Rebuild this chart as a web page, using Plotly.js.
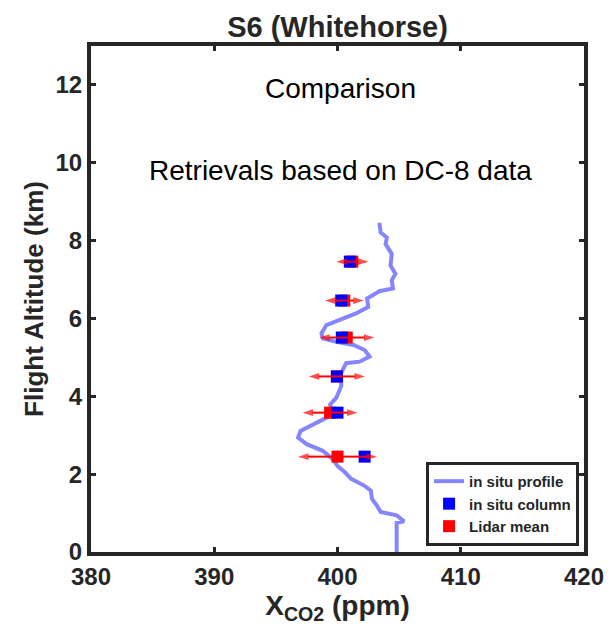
<!DOCTYPE html>
<html>
<head>
<meta charset="utf-8">
<script src="https://cdn.plot.ly/plotly-3.0.1.min.js"></script>
<style>html,body{margin:0;padding:0;background:#fff;}#chart{width:613px;height:634px;}</style>
</head>
<body>
<div id="chart"></div>
<script>
// In situ profile (XCO2 ppm vs altitude km)
var profileAlt = [8.46, 8.21, 8.08, 7.91, 7.66, 7.36, 7.15, 6.98, 6.77, 6.70, 6.51, 6.30, 6.13, 5.96, 5.83, 5.62, 5.49, 5.40, 5.32, 5.19, 5.02, 4.89, 4.85, 4.60, 4.26, 3.96, 3.79, 3.53, 3.28, 3.11, 2.94, 2.77, 2.60, 2.39, 2.21, 2.05, 1.88, 1.70, 1.58, 1.36, 1.19, 1.03, 0.94, 0.79, 0.75, 0.0];
var profileXco2 = [403.4, 403.5, 404.0, 403.9, 404.4, 404.3, 404.7, 404.4, 404.5, 403.4, 402.4, 402.5, 401.5, 400.2, 399.1, 398.7, 398.8, 399.9, 401.3, 402.2, 402.6, 401.8, 400.7, 400.3, 400.3, 399.9, 399.4, 399.6, 398.0, 397.0, 396.8, 397.5, 398.8, 399.6, 400.0, 400.6, 401.1, 402.2, 402.7, 402.8, 403.2, 403.5, 404.8, 405.4, 404.8, 404.8];

// Column retrievals at flight altitudes
var flightAlt   = [7.46, 6.46, 5.51, 4.51, 3.58, 2.45];
var insituCol   = [401.0, 400.3, 400.35, 399.95, 400.0, 402.2];
var lidarMean   = [401.2, 400.55, 400.75, 399.95, 399.4, 400.0];
var lidarErr    = [1.3, 1.57, 2.24, 2.28, 2.23, 3.2];

var xTicks = [380, 390, 400, 410, 420];
var yTicks = [0, 2, 4, 6, 8, 10, 12];

var axisColor = '#262626';
var boldFont = {family: 'Arial, Liberation Sans, sans-serif', weight: 'bold', color: '#262626'};

// error bars with arrowheads: centre -> left end, gap, centre -> right end
var ebX = [], ebY = [], ebSize = [];
for (var i = 0; i < flightAlt.length; i++) {
  ebX.push(lidarMean[i], lidarMean[i] - lidarErr[i], null, lidarMean[i], lidarMean[i] + lidarErr[i], null);
  ebY.push(flightAlt[i], flightAlt[i], null, flightAlt[i], flightAlt[i], null);
  ebSize.push(0, 11, 0, 0, 11, 0);
}

var traces = [
  {x: profileXco2, y: profileAlt, mode: 'lines', name: 'in situ profile',
   line: {color: 'rgba(120,120,255,0.9)', width: 4}, legendrank: 1},
  {x: lidarMean, y: flightAlt, mode: 'markers', name: 'Lidar mean',
   marker: {symbol: 'square', color: '#ff0000', size: 12}, legendrank: 3},
  {x: insituCol, y: flightAlt, mode: 'markers', name: 'in situ column',
   marker: {symbol: 'square', color: '#0000ff', size: 12}, legendrank: 2},
  {x: ebX, y: ebY, mode: 'lines+markers', showlegend: false, connectgaps: false,
   line: {color: '#ff0000', width: 2},
   marker: {symbol: 'arrow', angleref: 'previous', size: ebSize, color: '#ff0000', line: {width: 0}}}
];

var annotations = [
  {x: 400.25, y: 11.9, xref: 'x', yref: 'y', text: 'Comparison', showarrow: false,
   font: {family: 'Arial, Liberation Sans, sans-serif', size: 28, color: '#000'}},
  {x: 400.25, y: 9.8, xref: 'x', yref: 'y', text: 'Retrievals based on DC-8 data', showarrow: false,
   font: {family: 'Arial, Liberation Sans, sans-serif', size: 28, color: '#000'}}
];

var layout = {
  width: 613, height: 634,
  margin: {l: 91, r: 29, t: 46, b: 82},
  paper_bgcolor: '#fff', plot_bgcolor: '#fff',
  showlegend: true,
  title: {text: 'S6 (Whitehorse)', x: 0.5, xref: 'paper', xanchor: 'center', y: 0.958, yanchor: 'middle',
    font: Object.assign({size: 29}, boldFont)},
  xaxis: {range: [380, 420], tickvals: xTicks, ticktext: xTicks.map(String),
    ticks: 'inside', ticklen: 5, tickwidth: 3, tickcolor: axisColor,
    showline: true, linecolor: axisColor, linewidth: 4, mirror: 'ticks',
    showgrid: false, zeroline: false,
    tickfont: Object.assign({size: 24}, boldFont),
    title: {text: 'X<sub>CO2</sub> (ppm)', standoff: 6, font: Object.assign({size: 28}, boldFont)}},
  yaxis: {range: [0, 13], tickvals: yTicks, ticktext: yTicks.map(String),
    ticks: 'inside', ticklen: 5, tickwidth: 3, tickcolor: axisColor,
    showline: true, linecolor: axisColor, linewidth: 4, mirror: 'ticks',
    showgrid: false, zeroline: false,
    tickfont: Object.assign({size: 24}, boldFont),
    title: {text: 'Flight Altitude (km)', standoff: 5, font: Object.assign({size: 26}, boldFont)}},
  legend: {x: 0.99, xanchor: 'right', y: 0.012, yanchor: 'bottom',
    bgcolor: '#fff', bordercolor: axisColor, borderwidth: 3,
    font: Object.assign({size: 15}, boldFont), itemwidth: 30, tracegroupgap: 0},
  annotations: annotations
};

Plotly.newPlot('chart', traces, layout, {displayModeBar: false, staticPlot: true});
</script>
</body>
</html>
